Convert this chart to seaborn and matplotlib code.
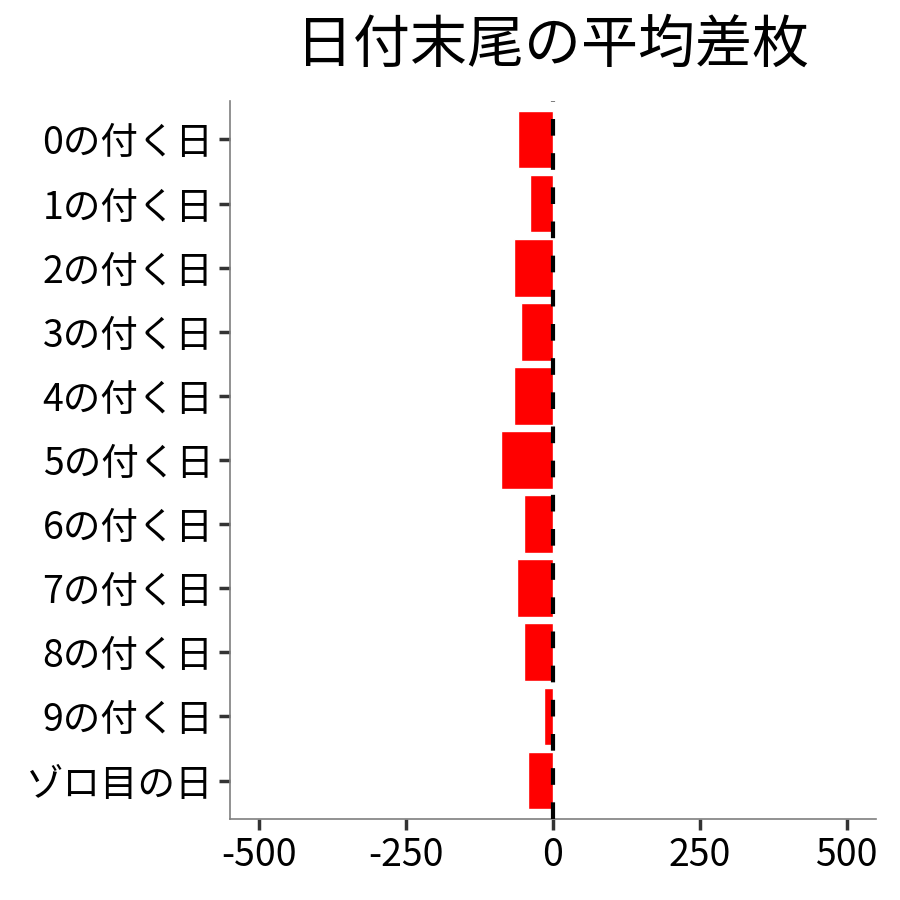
import pandas as pd
import matplotlib
matplotlib.use("Agg")
import matplotlib.pyplot as plt
import seaborn as sns

# data
categories = ["0の付く日", "1の付く日", "2の付く日", "3の付く日", "4の付く日",
              "5の付く日", "6の付く日", "7の付く日", "8の付く日", "9の付く日", "ゾロ目の日"]
avg_diff = [-59, -40, -66, -54, -66, -89, -49, -61, -50, -16, -42]
x_ticks = [-500, -250, 0, 250, 500]

df = pd.DataFrame({"category": categories, "diff": avg_diff})

sns.set_theme(style="white")
plt.rcParams['font.family'] = ['Noto Sans CJK JP', 'DejaVu Sans']

fig = plt.figure(figsize=(9, 9), dpi=100)
ax = fig.add_axes([230 / 900, 1 - 819 / 900, (876 - 230) / 900, (819 - 101) / 900])

sns.barplot(data=df, x="diff", y="category", orient="h", color="#ff0000",
            saturation=1, width=0.9, ax=ax)
ax.axvline(0, color="black", linestyle=(0, (4, 4.2)), linewidth=3, zorder=5)

ax.set_xlim(-550, 550)
ax.set_ylim(len(categories) - 0.4, -0.6)
ax.set_xticks(x_ticks)
ax.set_xticklabels([str(t) for t in x_ticks])
ax.set_xlabel("")
ax.set_ylabel("")

for side in ["top", "right"]:
    ax.spines[side].set_visible(False)
for side in ["left", "bottom"]:
    ax.spines[side].set_color("#7f7f7f")
    ax.spines[side].set_linewidth(1.2)

ax.tick_params(axis="both", length=8, width=2.5, color="#333333", labelsize=27,
               labelcolor="black", pad=4, bottom=True, left=True)

fig.text(553 / 900, 1 - 45 / 900, "日付末尾の平均差枚", ha="center", va="center",
         fontsize=41, color="black")

fig.savefig("out.png", dpi=100)
